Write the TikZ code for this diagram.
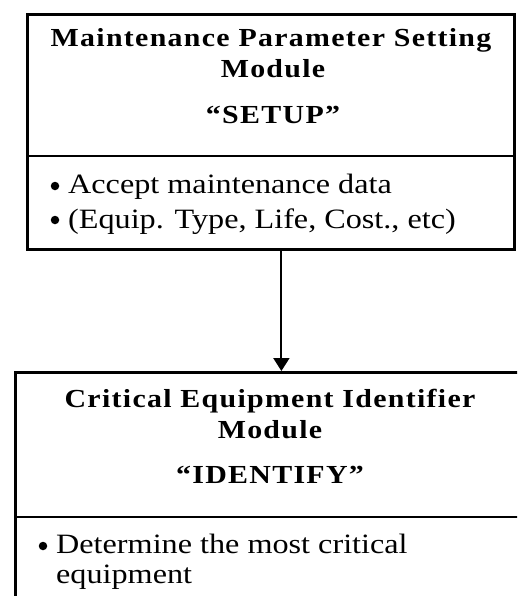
\documentclass[tikz,border=0pt]{standalone}
\usepackage{fontspec}
\setmainfont{Liberation Serif}
\newfontfamily\modtitlefont[FakeStretch=1.15,LetterSpace=5]{Liberation Serif}
\newfontfamily\moditemfont[FakeStretch=1.15]{Liberation Serif}
\usetikzlibrary{arrows.meta}
\begin{document}
\begin{tikzpicture}[x=1pt,y=-1pt,
  modbox/.style={draw=black,line width=2.8pt,minimum width=#1,inner sep=0pt},
  titletext/.style={font=\modtitlefont\fontsize{26}{30}\selectfont\bfseries,anchor=base,inner sep=0pt},
  itemtext/.style={font=\moditemfont\fontsize{28}{32}\selectfont,anchor=base west,inner sep=0pt},
  dot/.style={circle,fill=black,inner sep=0pt,minimum size=8.5pt},
  link/.style={line width=2pt,-{Triangle[length=13pt,width=16pt]}}]
\useasboundingbox (0,0) rectangle (517,596);
\clip (0,0) rectangle (517,596);
% SETUP module
\node[modbox=487pt,minimum height=235pt,anchor=north west] (setup) at (26,13) {};
\draw[line width=2.8pt] (setup.west |- 0,156) coordinate (sdl) -- (setup.east |- 0,156) coordinate (sdr);
\node[titletext] (s1) at (271,47) {Maintenance Parameter Setting};
\node[titletext] (s2) at (273,78) {Module};
\node[titletext] (s3) at (273,124) {“SETUP”};
\node[dot] (sb1) at (55,186) {};
\node[itemtext] (si1) at (68,193) {Accept maintenance data};
\node[dot] (sb2) at (55,220) {};
\node[itemtext] (si2) at (68,228) {(Equip. Type, Life, Cost., etc)};
% IDENTIFY module
\node[modbox=532pt,minimum height=260pt,anchor=north west] (ident) at (14,371) {};
\draw[line width=2.8pt] (ident.west |- 0,517) coordinate (idl) -- (ident.east |- 0,517) coordinate (idr);
\node[titletext] (i1) at (270,407) {Critical Equipment Identifier};
\node[titletext] (i2) at (270,438) {Module};
\node[titletext] (i3) at (270,483) {“IDENTIFY”};
\node[dot] (ib1) at (43,546) {};
\node[itemtext] (ii1) at (56,553) {Determine the most critical};
\node[itemtext] (ii2) at (56,583) {equipment};
% flow between modules
\draw[link] (setup.south -| ident.north) -- (ident.north);
\end{tikzpicture}
\end{document}
